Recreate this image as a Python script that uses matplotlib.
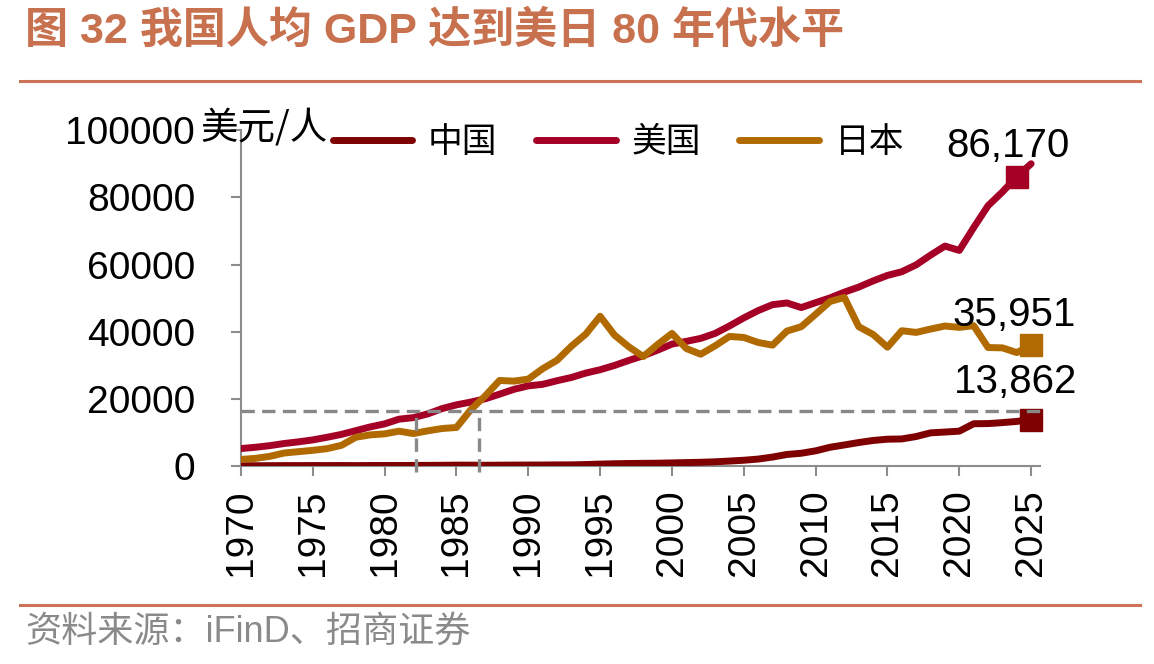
import matplotlib.pyplot as plt
import numpy as np

# data (USD per capita), 1970-2025
years = np.arange(1970, 2026)
china = [113, 119, 132, 157, 160, 178, 165, 185, 156, 184,
         195, 197, 203, 225, 251, 294, 282, 252, 284, 311,
         318, 333, 366, 377, 473, 610, 709, 782, 829, 873,
         959, 1053, 1149, 1289, 1509, 1753, 2099, 2694, 3468, 3832,
         4550, 5614, 6301, 7020, 7636, 8016, 8094, 8817, 9905, 10144,
         10409, 12618, 12662, 12951, 13303, 13862]
usa = [5234, 5609, 6094, 6726, 7226, 7801, 8592, 9453, 10565, 11674,
       12575, 13976, 14434, 15544, 17121, 18237, 19071, 20039, 21417, 22857,
       23889, 24342, 25419, 26387, 27695, 28691, 29968, 31459, 32854, 34516,
       36330, 37134, 38023, 39496, 41713, 44115, 46299, 48050, 48570, 47195,
       48651, 50066, 51784, 53291, 55124, 56763, 57867, 59915, 62805, 65500,
       64200, 71000, 77500, 81600, 86170, 90000]
japan = [2000, 2300, 2900, 3900, 4300, 4700, 5200, 6200, 8600, 9300,
         9600, 10400, 9700, 10500, 11200, 11500, 16800, 20900, 25500, 25300,
         25900, 29000, 31500, 35700, 39300, 44600, 39000, 35500, 32600, 36200,
         39500, 35000, 33300, 35800, 38600, 38300, 36800, 36000, 40200, 41500,
         45200, 49000, 50200, 41500, 39200, 35400, 40300, 39800, 40800, 41700,
         41300, 41800, 35300, 35200, 33800, 35951]
series_names = ['中国', '美国', '日本']

# end-point labels: (year, value, text)
label_points = {
    '美国': (2024, 86170, '86,170'),
    '日本': (2025, 35951, '35,951'),
    '中国': (2025, 13862, '13,862'),
}
# reference: China today ~ US in 1982 / Japan in 1986
ref_level = 16300
ref_years = [1982.2, 1986.6]

colors = {'中国': '#7E0000', '美国': '#A50026', '日本': '#B06A00'}
num_font = ['Liberation Sans', 'DejaVu Sans']
cjk_font = ['Noto Sans CJK SC', 'DejaVu Sans']
title_color = '#C8714F'

fig = plt.figure(figsize=(11.54, 6.64), dpi=100)
ax = fig.add_axes([0.2088, 0.298, 0.6922, 0.506])

data = {'中国': china, '美国': usa, '日本': japan}
for name in series_names:
    ax.plot(years, data[name], color=colors[name], lw=5, label=name,
            solid_joinstyle='round', solid_capstyle='round', zorder=3)

for name, (yr, val, txt) in label_points.items():
    ax.plot(yr, val, 's', color=colors[name], ms=16, zorder=4, clip_on=False)
    dx, dy = {'美国': (-6, 22), '日本': (-12, 22), '中国': (-11, 27)}[name]
    ax.annotate(txt, (yr, val), xytext=(dx, dy), textcoords='offset points',
                ha='center', va='center', fontsize=29, family=num_font,
                color='black', annotation_clip=False)

# dashed reference lines
ax.plot([1970, 2025.9], [ref_level, ref_level], ls=(0, (4, 2.2)), color='#888888',
        lw=2.4, zorder=5, clip_on=False)
for ry in ref_years:
    ax.plot([ry, ry], [-1800, ref_level], ls=(0, (4, 2.2)), color='#888888',
            lw=2.4, zorder=5, clip_on=False)

ax.set_xlim(1970, 2025.6)
ax.set_ylim(0, 100000)
ax.set_xticks(np.arange(1970, 2026, 5))
ax.set_yticks(np.arange(0, 100001, 20000))
ax.set_xticklabels([str(y) for y in range(1970, 2026, 5)], rotation=90,
                   fontsize=28, family=num_font)
ax.set_yticklabels([str(v) for v in range(0, 100001, 20000)], fontsize=28,
                   family=num_font)
for s in ['top', 'right']:
    ax.spines[s].set_visible(False)
for s in ['left', 'bottom']:
    ax.spines[s].set_color('#8C8C8C')
    ax.spines[s].set_linewidth(1.5)
ax.tick_params(axis='x', direction='out', length=7, width=1.5, color='#8C8C8C', pad=10)
ax.tick_params(axis='y', direction='out', length=7, width=1.5, color='#8C8C8C', pad=26)

fig.text(200 / 1154, 1 - 128 / 664, '美元/人', fontsize=27, family=cjk_font,
         ha='left', va='center')

leg = ax.legend(loc='center left', bbox_to_anchor=(0.093, 0.962), ncol=3,
                frameon=False, borderpad=0, handlelength=2.3, handletextpad=0.45,
                columnspacing=1.1, prop={'family': cjk_font, 'size': 25})

# title, rules, source
fig.text(25 / 1154, 1 - 31 / 664, '图 32 我国人均 GDP 达到美日 80 年代水平',
         fontsize=31, fontweight='bold', color=title_color,
         family=['Liberation Sans', 'Noto Sans CJK SC'], ha='left', va='center')
fig.add_artist(plt.Line2D([20 / 1154, 1140 / 1154], [1 - 81 / 664, 1 - 81 / 664],
                          color='#CC7256', lw=2.2))
fig.add_artist(plt.Line2D([20 / 1154, 1140 / 1154], [1 - 605 / 664, 1 - 605 / 664],
                          color='#CC7256', lw=2.2))
fig.text(25 / 1154, 1 - 632 / 664, '资料来源：iFinD、招商证券', fontsize=26,
         color='#8A8A8A', family=['Liberation Sans', 'Noto Sans CJK SC'],
         ha='left', va='center')

fig.savefig('out.png', dpi=100)
